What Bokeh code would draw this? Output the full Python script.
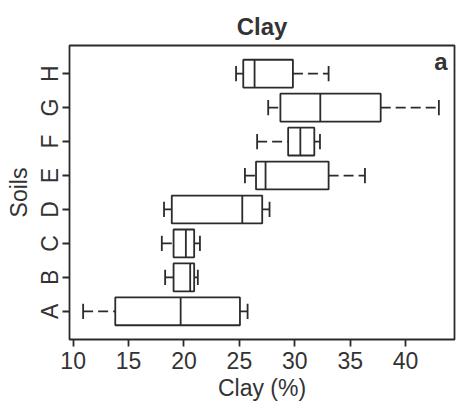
from bokeh.plotting import figure
from bokeh.models import Range1d, FixedTicker, Label, ColumnDataSource
from bokeh.embed import file_html
from bokeh.resources import INLINE

soils = ["A", "B", "C", "D", "E", "F", "G", "H"]
lo_whisker = [10.9, 18.3, 18.0, 18.2, 25.5, 26.6, 27.6, 24.7]
q1 = [13.8, 19.06, 19.06, 18.9, 26.5, 29.4, 28.7, 25.35]
median = [19.7, 20.56, 20.17, 25.26, 27.36, 30.5, 32.3, 26.37]
q3 = [25.05, 20.92, 20.92, 27.06, 33.05, 31.76, 37.75, 29.83]
hi_whisker = [25.74, 21.25, 21.44, 27.72, 36.33, 32.27, 43.0, 33.05]
x_ticks = [10, 15, 20, 25, 30, 35, 40]

ys = list(range(1, len(soils) + 1))
BOX_W = 0.82
CAP_W = 0.45
INK = "#2b2b2b"
TXT = "#333333"
LW = 1.8

src = ColumnDataSource(dict(
    y=ys, lo=lo_whisker, q1=q1, med=median, q3=q3, hi=hi_whisker,
    ylo=[v - BOX_W / 2 for v in ys], yhi=[v + BOX_W / 2 for v in ys],
    clo=[v - CAP_W / 2 for v in ys], chi=[v + CAP_W / 2 for v in ys],
))

p = figure(
    width=458, height=403,
    min_border_left=69, min_border_right=4, min_border_top=45, min_border_bottom=63,
    x_range=Range1d(9.67, 44.41), y_range=Range1d(0.17, 8.83),
    output_backend="svg", toolbar_location=None, title="Clay",
)

# whiskers (dashed)
p.segment(x0="lo", x1="q1", y0="y", y1="y", source=src, line_color=INK, line_width=LW, line_dash="10 5")
p.segment(x0="q3", x1="hi", y0="y", y1="y", source=src, line_color=INK, line_width=LW, line_dash="10 5")
# caps
p.segment(x0="lo", x1="lo", y0="clo", y1="chi", source=src, line_color=INK, line_width=LW)
p.segment(x0="hi", x1="hi", y0="clo", y1="chi", source=src, line_color=INK, line_width=LW)
# boxes
p.quad(left="q1", right="q3", bottom="ylo", top="yhi", source=src,
       fill_color="white", line_color=INK, line_width=LW)
# medians
p.segment(x0="med", x1="med", y0="ylo", y1="yhi", source=src, line_color=INK, line_width=LW)

p.title.text_font = "Liberation Sans"
p.title.text_font_size = "24px"
p.title.text_font_style = "bold"
p.title.text_color = TXT
p.title.align = "center"
p.title.vertical_align = "middle"
p.title.standoff = 10

p.xgrid.visible = False
p.ygrid.visible = False
p.outline_line_color = INK
p.outline_line_width = LW
p.outline_line_alpha = 1

for ax in (p.xaxis[0], p.yaxis[0]):
    ax.axis_line_color = None
    ax.minor_tick_line_color = None
    ax.major_tick_line_color = INK
    ax.major_tick_line_width = LW
    ax.major_tick_in = 0
    ax.major_tick_out = 7
    ax.major_label_text_font = "Liberation Sans"
    ax.major_label_text_font_size = "23px"
    ax.major_label_text_color = TXT
    ax.axis_label_text_font = "Liberation Sans"
    ax.axis_label_text_font_size = "23px"
    ax.axis_label_text_font_style = "normal"
    ax.axis_label_text_color = TXT

p.xaxis.ticker = FixedTicker(ticks=x_ticks)
p.xaxis.axis_label = "Clay (%)"
p.xaxis.major_label_standoff = 5
p.xaxis.axis_label_standoff = 3

p.yaxis.ticker = FixedTicker(ticks=ys)
p.yaxis.major_label_overrides = {y: s for y, s in zip(ys, soils)}
p.yaxis.major_label_orientation = "vertical"
p.yaxis.axis_label = "Soils"
p.yaxis.major_label_standoff = -1
p.yaxis.axis_label_standoff = 3

p.add_layout(Label(x=p.x_range.end, y=p.y_range.end, text="a", text_align="right",
                   text_baseline="top", x_offset=-7, y_offset=-2,
                   text_font="Liberation Sans", text_font_size="24px",
                   text_font_style="bold", text_color=TXT))

open("out.html", "w").write(file_html(p, INLINE))
